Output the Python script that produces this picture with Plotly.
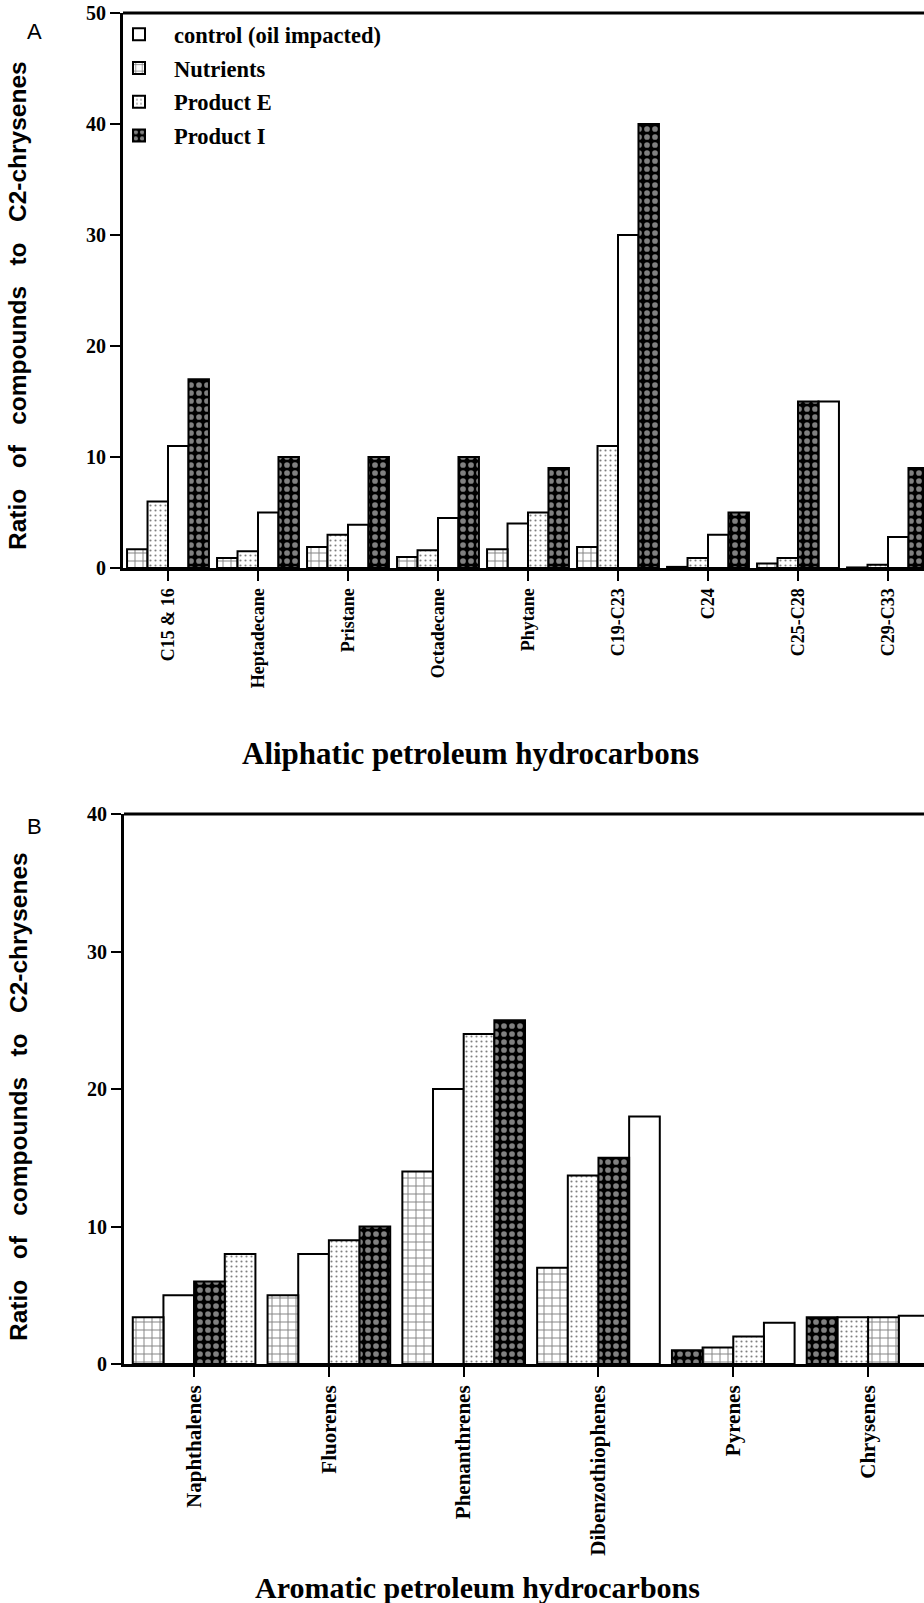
import plotly.graph_objects as go

# ---------------- data ----------------
SERIES = ["control (oil impacted)", "Nutrients", "Product E", "Product I"]

A_CATS = ["C15 & 16", "Heptadecane", "Pristane", "Octadecane", "Phytane",
          "C19-C23", "C24", "C25-C28", "C29-C33"]
A_CONTROL = [11, 5, 3.9, 4.5, 4, 30, 3, 15, 2.8]
A_NUTRIENTS = [1.7, 0.9, 1.9, 1.0, 1.7, 1.9, 0.1, 0.4, 0.05]
A_PRODUCT_E = [6, 1.5, 3, 1.6, 5, 11, 0.9, 0.9, 0.3]
A_PRODUCT_I = [17, 10, 10, 10, 9, 40, 5, 15, 9]
# bar order within each group (C=control, N=Nutrients, E=Product E, I=Product I)
A_ORDER = ["NECI", "NECI", "NECI", "NECI", "NCEI", "NECI", "NECI", "NEIC", "NECI"]

B_CATS = ["Naphthalenes", "Fluorenes", "Phenanthrenes", "Dibenzothiophenes",
          "Pyrenes", "Chrysenes"]
B_CONTROL = [5, 8, 20, 18, 3, 3.5]
B_NUTRIENTS = [3.4, 5, 14, 7, 1.2, 3.4]
B_PRODUCT_E = [8, 9, 24, 13.7, 2, 3.4]
B_PRODUCT_I = [6, 10, 25, 15, 1, 3.4]
B_ORDER = ["NCIE", "NCEI", "NCEI", "NEIC", "INEC", "IENC"]

A_YTICKS = [0, 10, 20, 30, 40, 50]
B_YTICKS = [0, 10, 20, 30, 40]

# ---------------- styles ----------------
KEYS = ["C", "N", "E", "I"]
PATTERNS = {
    "C": dict(shape="", bgcolor="white"),
    "N": dict(shape="+", fgcolor="black", bgcolor="white", size=8, solidity=0.22),
    "E": dict(shape=".", fgcolor="black", bgcolor="white", size=5, solidity=0.14),
    "I": dict(shape=".", fgcolor="white", bgcolor="black", size=8, solidity=0.4),
}
W = 0.2275
SERIF = "Liberation Serif"
SANS = "Liberation Sans"

fig = go.Figure()


def add_panel(cats, vals, order, xa, ya, showlegend):
    for key, name, v in zip(KEYS, SERIES, vals):
        offs = [-2 * W + order[i].index(key) * W for i in range(len(cats))]
        fig.add_trace(go.Bar(
            x=cats, y=v, name=name, offset=offs, width=W,
            marker=dict(color="white", line=dict(color="black", width=2),
                        pattern=PATTERNS[key]),
            xaxis=xa, yaxis=ya, showlegend=showlegend,
            legendgroup=name,
        ))


add_panel(A_CATS, [A_CONTROL, A_NUTRIENTS, A_PRODUCT_E, A_PRODUCT_I], A_ORDER, "x", "y", True)
add_panel(B_CATS, [B_CONTROL, B_NUTRIENTS, B_PRODUCT_E, B_PRODUCT_I], B_ORDER, "x2", "y2", False)

H = 1603.0
Wd = 924.0


def ydom(top, bot):
    return [1 - bot / H, 1 - top / H]


axis_common = dict(showline=True, linecolor="black", linewidth=3, ticks="outside",
                   ticklen=10, tickwidth=2, tickcolor="black", showgrid=False,
                   zeroline=False, automargin=False)


def tfont(size):
    return dict(family=SERIF, size=size, color="black", weight="bold")


fig.update_layout(
    width=924, height=1603,
    margin=dict(l=0, r=0, t=0, b=0),
    paper_bgcolor="white", plot_bgcolor="white",
    barmode="overlay",
    xaxis=dict(domain=[123 / Wd, 1], anchor="y", range=[-0.5, 8.4],
               tickangle=-90, tickfont=tfont(18), **axis_common),
    yaxis=dict(domain=ydom(13, 568), anchor="x", range=[0, 50], tickvals=A_YTICKS,
               tickfont=tfont(20), **axis_common),
    xaxis2=dict(domain=[124 / Wd, 1], anchor="y2", range=[-0.52, 5.415],
                tickangle=-90, tickfont=tfont(21), **axis_common),
    yaxis2=dict(domain=ydom(814, 1364), anchor="x2", range=[0, 40], tickvals=B_YTICKS,
                tickfont=tfont(20), **axis_common),
    legend=dict(x=104 / Wd, y=1 - 13 / H, xanchor="left", yanchor="top",
                font=tfont(22.5),
                traceorder="grouped", tracegroupgap=1.5, itemwidth=60,
                bgcolor="rgba(0,0,0,0)"),
)

# top frame lines
for xr, yr in [("x domain", "y domain"), ("x2 domain", "y2 domain")]:
    fig.add_shape(type="line", xref=xr, yref=yr, x0=0, x1=1, y0=1, y1=1,
                  line=dict(color="black", width=3))

ytitle = "\u00a0\u00a0 ".join(["Ratio", "of", "compounds", "to", "C2-chrysenes"])
annots = [
    dict(text="<b>" + ytitle + "</b>", x=18 / Wd, y=1 - 306 / H, textangle=-90,
         font=dict(family=SANS, size=24.5, color="black")),
    dict(text="<b>" + ytitle + "</b>", x=18 / Wd, y=1 - 1097 / H, textangle=-90,
         font=dict(family=SANS, size=24.5, color="black")),
    dict(text="<b>Aliphatic petroleum hydrocarbons</b>", x=470 / Wd, y=1 - 754 / H,
         font=dict(family=SERIF, size=31, color="black")),
    dict(text="<b>Aromatic petroleum hydrocarbons</b>", x=478 / Wd, y=1 - 1587 / H,
         font=dict(family=SERIF, size=30, color="black")),
    dict(text="A", x=34 / Wd, y=1 - 31 / H, font=dict(family=SANS, size=22, color="black")),
    dict(text="B", x=34 / Wd, y=1 - 826 / H, font=dict(family=SANS, size=22, color="black")),
]
for a in annots:
    fig.add_annotation(xref="paper", yref="paper", showarrow=False,
                       xanchor="center", yanchor="middle", **a)

fig.write_html(
    "out.html",
    config={"displayModeBar": False},
    post_script="document.body.style.margin='0';document.body.style.overflow='hidden';",
)
